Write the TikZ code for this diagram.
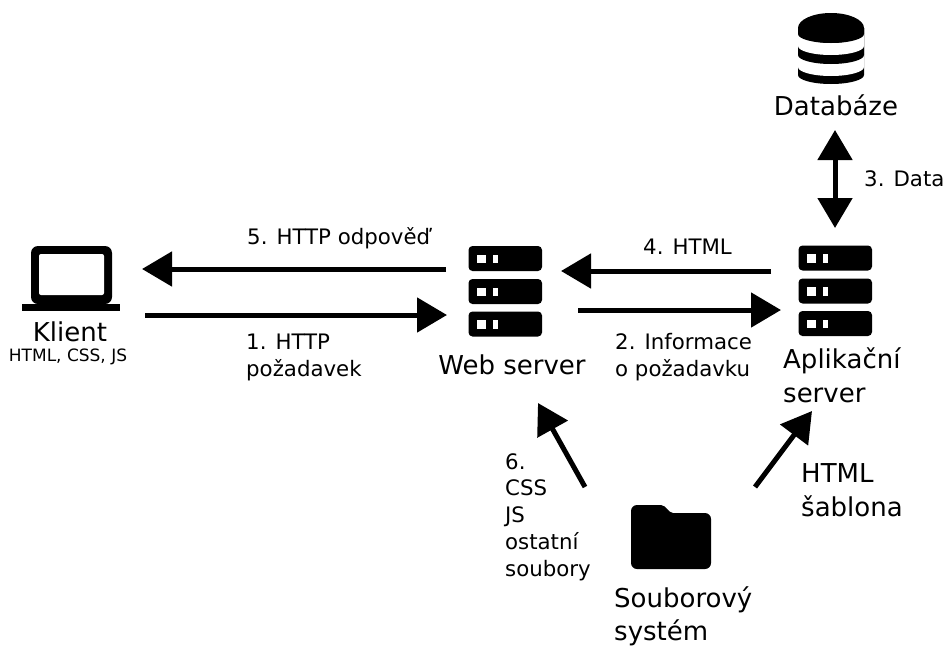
\documentclass[tikz,border=0pt]{standalone}
\usepackage{fontspec}
\setmainfont{DejaVu Sans}
\usetikzlibrary{arrows.meta}

\tikzset{
  big/.style={font=\fontsize{26}{34}\selectfont, align=left, inner sep=0pt},
  label/.style={font=\fontsize{21.3}{26.8}\selectfont, align=left, inner sep=0pt, anchor=north west},
  tiny/.style={font=\fontsize{17}{20}\selectfont, inner sep=0pt},
  link/.style={line width=5pt, -{Triangle[length=30pt,width=34pt]}},
  linkboth/.style={line width=5pt, {Triangle[length=30pt,width=34pt]}-{Triangle[length=30pt,width=34pt]}},
  serverico/.pic={
    \foreach \y in {0,33,65.5} {
      \fill[black, rounded corners=4pt] (0,\y) rectangle (73.5,\y+25);
      \fill[white] (8,\y+8.5) rectangle (17,\y+17);
      \fill[white] (24.5,\y+8.5) rectangle (29,\y+17);
    }
  },
  laptopico/.pic={
    \fill[black, rounded corners=7pt] (31,246) rectangle (112,304);
    \fill[white, rounded corners=2pt] (39,254) rectangle (104,295);
    \fill[black] (22,304) rectangle (120,311);
  },
  folderico/.pic={
    \fill[black] (631,540) [rounded corners=6pt] -- (631,505) [rounded corners=2pt] -- (663,505) -- (671,513) [rounded corners=6pt] -- (711,513) -- (711,569) -- (631,569) -- cycle;
  },
  dbico/.pic={
    \fill[black] (798,28) -- (798,75) arc[start angle=180, end angle=360, x radius=33, y radius=-9] -- (864,28) -- cycle;
    \fill[white] (798,28) -- (798,67) arc[start angle=180, end angle=360, x radius=33, y radius=-9] -- (864,28) -- cycle;
    \fill[black] (798,28) -- (798,55) arc[start angle=180, end angle=360, x radius=33, y radius=-9] -- (864,28) -- cycle;
    \fill[white] (798,28) -- (798,46) arc[start angle=180, end angle=360, x radius=33, y radius=-9] -- (864,28) -- cycle;
    \fill[black] (798,28) -- (798,34) arc[start angle=180, end angle=360, x radius=33, y radius=-9] -- (864,28) -- cycle;
    \fill[black] (831,28) ellipse[x radius=33, y radius=15];
  }
}

\begin{document}
\begin{tikzpicture}[x=1pt, y=-1pt]
\useasboundingbox (0,0) rectangle (944,645);

\pic at (0,0) {laptopico};
\pic at (468.5,246) {serverico};
\pic at (798.5,245.5) {serverico};
\pic at (0,0) {dbico};
\pic at (0,0) {folderico};

\node[big, anchor=base] at (70,341) (klient) {Klient};
\node[tiny, anchor=base] at (68,361) (tech) {HTML, CSS, JS};
\node[big, anchor=base] at (836,115) (db) {Databáze};
\node[big] at (512,365) (web) {Web server};
\node[big, anchor=north west] at (783,347) (app) {Aplikační\\server};
\node[big, anchor=north west, font=\fontsize{26}{33}\selectfont] at (614,586) (fs) {Souborový\\systém};
\node[big, anchor=north west] at (801,463) (tpl) {HTML\\šablona};

\node[label] at (247,227) (l5) {5. HTTP odpověď};
\node[label] at (246,334) (l1) {1. HTTP\\požadavek};
\node[label] at (643,239) (l4) {4. HTML};
\node[label] at (615,333) (l2) {2. Informace\\o požadavku};
\node[label] at (864,170) (l3) {3. Data};
\node[label] at (505,453) (l6) {6.\\CSS\\JS\\ostatní\\soubory};

\coordinate (a5s) at (446,269);
\coordinate (a5e) at (142,269);
\coordinate (a1s) at (145,315);
\coordinate (a1e) at (447,315);
\coordinate (a4s) at (771,271);
\coordinate (a4e) at (561,271);
\coordinate (a2s) at (578,310);
\coordinate (a2e) at (781,310);
\coordinate (a3s) at (835,130);
\coordinate (a3e) at (835,228);
\coordinate (a6s) at (585,487);
\coordinate (a6e) at (538,403);
\coordinate (a7s) at (755,487);
\coordinate (a7e) at (812,411);

\path[link] (a5s) edge (a5e);
\path[link] (a1s) edge (a1e);
\path[link] (a4s) edge (a4e);
\path[link] (a2s) edge (a2e);
\path[linkboth] (a3s) edge (a3e);
\path[link] (a6s) edge (a6e);
\path[link] (a7s) edge (a7e);

\end{tikzpicture}
\end{document}
